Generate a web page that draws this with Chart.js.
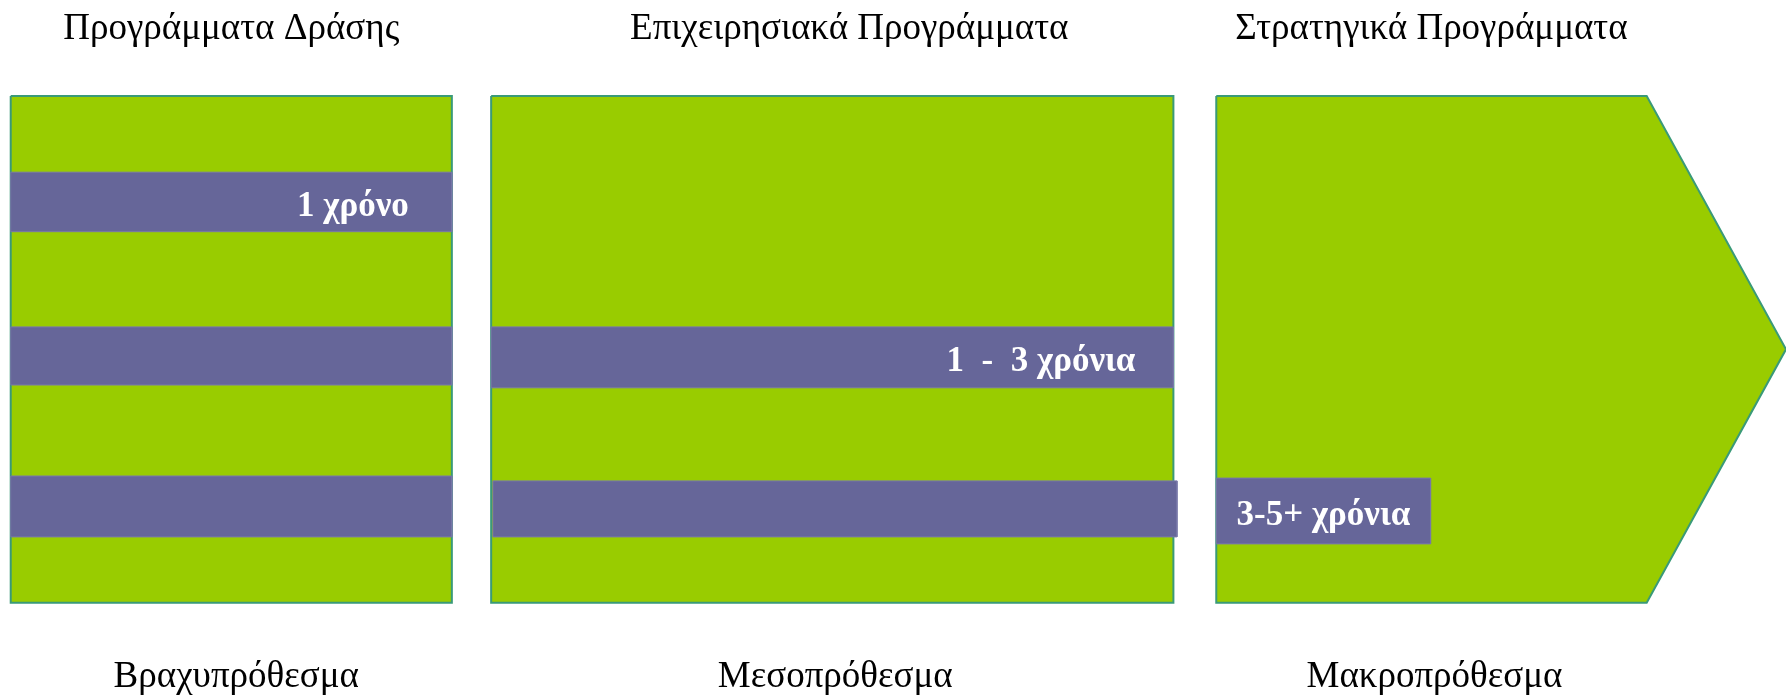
<!DOCTYPE html>
<html lang="el">
<head>
<meta charset="utf-8">
<title>Προγράμματα</title>
<script src="https://cdn.jsdelivr.net/npm/chart.js@4.4.1/dist/chart.umd.min.js"></script>
<style>
    html, body { margin: 0; padding: 0; background: #fff; }
    canvas { display: block; }
</style>
</head>
<body>
<canvas id="planChart" width="1786" height="700"></canvas>
<script>
// programmes, horizons, durations
const programmes = ['Προγράμματα Δράσης', 'Επιχειρησιακά Προγράμματα', 'Στρατηγικά Προγράμματα'];
const horizons = ['Βραχυπρόθεσμα', 'Μεσοπρόθεσμα', 'Μακροπρόθεσμα'];
const durations = ['1 χρόνο', '1  -  3 χρόνια', '3-5+ χρόνια'];

// block extents on the diagram axes (0..100 both ways)
const blockStart = [0.6, 27.5, 68.1];
const blockEnd = [25.3, 65.7, 92.2];
const blockTip = [null, null, 100];
const blockTop = [86.3, 86.3, 86.3];
const blockBottom = [13.9, 13.9, 13.9];

// stripes: which block, from/to, top/bottom
const stripeBlock = [0, 0, 0, 1, 1, 2];
const stripeFrom = [0.6, 0.6, 0.6, 27.5, 27.6, 68.1];
const stripeTo = [25.3, 25.3, 25.3, 65.7, 65.9, 80.1];
const stripeTop = [75.4, 53.3, 32.0, 53.3, 31.3, 31.7];
const stripeBottom = [66.9, 45.0, 23.3, 44.6, 23.3, 22.3];

// stripe that carries each duration label
const durationStripe = [0, 3, 5];

const GREEN = '#99CC00';
const PURPLE = '#666699';
const EDGE = '#3A9A78';

function blockShape(i) {
    let pts = [
        {x: blockStart[i], y: blockTop[i]},
        {x: blockEnd[i], y: blockTop[i]}
    ];
    if (blockTip[i] !== null) {
        pts.push({x: blockTip[i], y: (blockTop[i] + blockBottom[i]) / 2});
    }
    pts.push({x: blockEnd[i], y: blockBottom[i]});
    pts.push({x: blockStart[i], y: blockBottom[i]});
    pts.push({x: blockStart[i], y: blockTop[i]});
    return pts;
}

function stripeShape(j) {
    return [
        {x: stripeFrom[j], y: stripeTop[j]},
        {x: stripeTo[j], y: stripeTop[j]},
        {x: stripeTo[j], y: stripeBottom[j]},
        {x: stripeFrom[j], y: stripeBottom[j]},
        {x: stripeFrom[j], y: stripeTop[j]}
    ];
}

let datasets = [];

programmes.forEach((name, i) => {
    datasets.push({
        label: name,
        data: blockShape(i),
        fill: 'shape',
        backgroundColor: GREEN,
        borderColor: EDGE,
        borderWidth: 2,
        pointRadius: 0,
        tension: 0,
        order: 2
    });
});

stripeBlock.forEach((b, j) => {
    datasets.push({
        label: 'stripe ' + j,
        data: stripeShape(j),
        fill: 'shape',
        backgroundColor: PURPLE,
        borderColor: '#7878a8',
        borderWidth: 1,
        pointRadius: 0,
        tension: 0,
        order: 1
    });
});

const textPlugin = {
    id: 'planText',
    afterDatasetsDraw(chart, args, opts) {
        const ctx = chart.ctx;
        const x = chart.scales.x;
        const y = chart.scales.y;

        ctx.save();
        ctx.fillStyle = '#000';
        ctx.textAlign = 'center';
        ctx.textBaseline = 'alphabetic';
        ctx.font = '37px "Liberation Serif", "Times New Roman", serif';

        programmes.forEach((name, i) => {
            let cx = (x.getPixelForValue(blockStart[i]) + x.getPixelForValue(blockEnd[i])) / 2;
            ctx.fillText(name, cx + opts.titleShift[i], y.getPixelForValue(blockTop[i]) - 57);
        });

        horizons.forEach((name, i) => {
            let cx = (x.getPixelForValue(blockStart[i]) + x.getPixelForValue(blockEnd[i])) / 2;
            ctx.fillText(name, cx + opts.horizonShift[i], y.getPixelForValue(blockBottom[i]) + 84);
        });

        ctx.fillStyle = '#fff';
        ctx.font = 'bold 35px "Liberation Serif", "Times New Roman", serif';
        durations.forEach((txt, i) => {
            let j = durationStripe[i];
            let left = x.getPixelForValue(stripeFrom[j]);
            let right = x.getPixelForValue(stripeTo[j]);
            let cy = (y.getPixelForValue(stripeTop[j]) + y.getPixelForValue(stripeBottom[j])) / 2;
            if (opts.durationAlign[i] === 'right') {
                ctx.textAlign = 'right';
                ctx.fillText(txt, right - opts.durationPad[i], cy + 14);
            } else {
                ctx.textAlign = 'center';
                ctx.fillText(txt, (left + right) / 2, cy + 14);
            }
        });
        ctx.restore();
    }
};

new Chart(document.getElementById('planChart'), {
    type: 'line',
    data: {datasets: datasets},
    options: {
        responsive: false,
        animation: false,
        events: [],
        layout: {padding: 0},
        scales: {
            x: {type: 'linear', min: 0, max: 100, display: false},
            y: {type: 'linear', min: 0, max: 100, display: false}
        },
        elements: {line: {borderJoinStyle: 'miter'}},
        plugins: {
            legend: {display: false},
            tooltip: {enabled: false},
            planText: {
                titleShift: [0, 17, 0],
                horizonShift: [5, 3, 3],
                durationAlign: ['right', 'right', 'center'],
                durationPad: [43, 38, 0]
            }
        }
    },
    plugins: [textPlugin]
});
</script>
</body>
</html>
